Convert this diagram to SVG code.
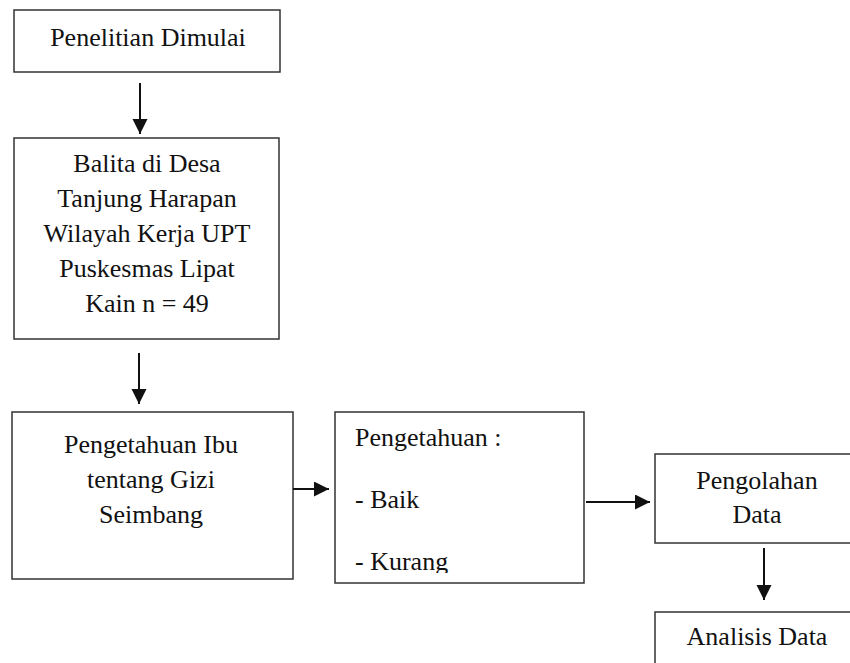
<svg xmlns="http://www.w3.org/2000/svg" width="850" height="663" viewBox="0 0 850 663">
<style>
.box{fill:#fff;stroke:#333;stroke-width:1.5}
.t{font-family:"Liberation Serif","Times New Roman",serif;font-size:26px;fill:#111}
.c{text-anchor:middle}
.conn{stroke:#111;stroke-width:2;fill:none}
</style>
<defs>
<marker id="ah" markerUnits="userSpaceOnUse" markerWidth="16" markerHeight="16" refX="15" refY="7.5" orient="auto">
<path d="M0,0 L15,7.5 L0,15 Z" fill="#111"/>
</marker>
<clipPath id="clip4"><rect x="335" y="412" width="249" height="161"/></clipPath>
</defs>
<rect width="850" height="663" fill="#fff"/>
<g id="n1">
<rect class="box" x="14" y="10" width="266" height="62"/>
<text class="t c" x="148" y="46">Penelitian Dimulai</text>
</g>
<g id="n2">
<rect class="box" x="14" y="138" width="265" height="201"/>
<text class="t c" x="147" y="172">Balita di Desa</text>
<text class="t c" x="147" y="207">Tanjung Harapan</text>
<text class="t c" x="147" y="242">Wilayah Kerja UPT</text>
<text class="t c" x="147" y="277">Puskesmas Lipat</text>
<text class="t c" x="147" y="312">Kain n = 49</text>
</g>
<g id="n3">
<rect class="box" x="12" y="412" width="281" height="167"/>
<text class="t c" x="151" y="453">Pengetahuan Ibu</text>
<text class="t c" x="151" y="488">tentang Gizi</text>
<text class="t c" x="151" y="523">Seimbang</text>
</g>
<g id="n4">
<rect class="box" x="335" y="412" width="249" height="171"/>
<g clip-path="url(#clip4)">
<text class="t" x="355" y="446">Pengetahuan :</text>
<text class="t" x="355" y="508">- Baik</text>
<text class="t" x="355" y="570">- Kurang</text>
</g>
</g>
<g id="n5">
<rect class="box" x="655" y="454" width="210" height="89"/>
<text class="t c" x="757" y="489">Pengolahan</text>
<text class="t c" x="757" y="523">Data</text>
</g>
<g id="n6">
<rect class="box" x="655" y="612" width="210" height="70"/>
<text class="t c" x="757" y="645">Analisis Data</text>
</g>
<g id="connectors">
<line class="conn" x1="140" y1="83" x2="140" y2="134" marker-end="url(#ah)"/>
<line class="conn" x1="139" y1="353" x2="139" y2="404" marker-end="url(#ah)"/>
<line class="conn" x1="293" y1="489" x2="329" y2="489" marker-end="url(#ah)"/>
<line class="conn" x1="586" y1="502" x2="650" y2="502" marker-end="url(#ah)"/>
<line class="conn" x1="764" y1="548" x2="764" y2="600" marker-end="url(#ah)"/>
</g>
</svg>
